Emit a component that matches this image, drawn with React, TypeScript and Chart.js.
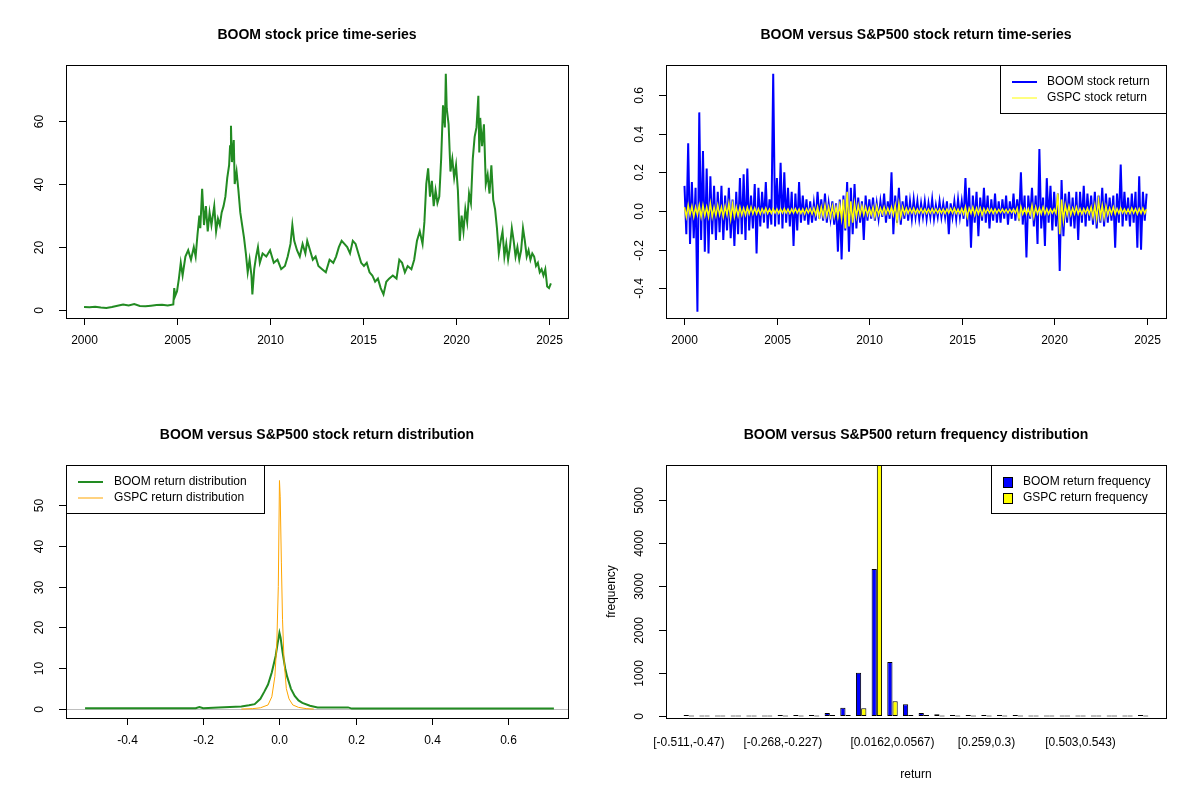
import React, { useEffect, useRef } from "react";
import { Chart, registerables } from "chart.js";

Chart.register(...registerables);

const FONT = "'Liberation Sans', Arial, sans-serif";

// ---- top-left: price series (year, price)
const priceYears = [
  2000.0, 2000.3, 2000.6, 2000.9, 2001.2, 2001.5, 2001.8, 2002.1, 2002.4, 2002.7, 2003.0, 2003.3, 2003.6, 2003.9,
  2004.2, 2004.5, 2004.8, 2004.85, 2004.9, 2005.0, 2005.1, 2005.2, 2005.3, 2005.45, 2005.6, 2005.75, 2005.9, 2006.0,
  2006.1, 2006.2, 2006.25, 2006.35, 2006.45, 2006.55, 2006.65, 2006.75, 2006.85, 2007.0, 2007.1, 2007.2, 2007.3,
  2007.4, 2007.5, 2007.6, 2007.7, 2007.8, 2007.85, 2007.9, 2007.95, 2008.05, 2008.1, 2008.2, 2008.3, 2008.4, 2008.5,
  2008.6, 2008.7, 2008.8, 2008.9, 2009.0, 2009.05, 2009.15, 2009.25, 2009.35, 2009.45, 2009.6, 2009.8, 2010.0, 2010.2,
  2010.4, 2010.6, 2010.8, 2010.95, 2011.1, 2011.2, 2011.3, 2011.45, 2011.6, 2011.75, 2011.9, 2012.0, 2012.15, 2012.3,
  2012.45, 2012.6, 2012.8, 2013.0, 2013.2, 2013.4, 2013.55, 2013.7, 2013.85, 2014.0, 2014.15, 2014.3, 2014.45, 2014.6,
  2014.75, 2014.9, 2015.05, 2015.2, 2015.35, 2015.5, 2015.65, 2015.8, 2015.95, 2016.1, 2016.25, 2016.4, 2016.6,
  2016.8, 2016.95, 2017.1, 2017.25, 2017.4, 2017.6, 2017.75, 2017.9, 2018.05, 2018.2, 2018.3, 2018.4, 2018.5,
  2018.6, 2018.7, 2018.8, 2018.9, 2019.0, 2019.1, 2019.2, 2019.3, 2019.4, 2019.45, 2019.5, 2019.6, 2019.7, 2019.8,
  2019.9, 2020.0, 2020.1, 2020.2, 2020.3, 2020.4, 2020.5, 2020.6, 2020.7, 2020.8, 2020.9, 2021.0, 2021.1, 2021.2,
  2021.25, 2021.3, 2021.4, 2021.5, 2021.6, 2021.7, 2021.8, 2021.9, 2022.0, 2022.1, 2022.2, 2022.3, 2022.4, 2022.5,
  2022.6, 2022.7, 2022.8, 2022.9, 2023.0, 2023.1, 2023.2, 2023.3, 2023.4, 2023.5, 2023.6, 2023.7, 2023.8, 2023.9,
  2024.0, 2024.1, 2024.2, 2024.3, 2024.4, 2024.5, 2024.6, 2024.7, 2024.8, 2024.9, 2025.0, 2025.1,
];
const priceValues = [
  1.0, 0.9, 1.1, 0.8, 0.7, 1.0, 1.4, 1.8, 1.5, 1.9, 1.3, 1.2, 1.4, 1.6,
  1.7, 1.5, 1.8, 7.0, 4.5, 6.0, 10.0, 15.0, 11.0, 17.0, 19.0, 16.0, 20.0, 17.0,
  24.0, 30.0, 26.0, 38.5, 27.0, 33.0, 25.0, 31.0, 27.0, 33.0, 25.0, 29.0, 27.0,
  31.0, 33.0, 36.0, 42.0, 46.0, 52.0, 58.5, 47.0, 54.0, 40.0, 44.0, 38.0, 31.0, 27.0,
  23.0, 18.0, 12.0, 16.0, 11.0, 5.0, 13.0, 17.0, 20.0, 15.0, 18.0, 17.0, 19.0, 15.0,
  16.0, 13.0, 14.0, 17.0, 21.0, 27.0, 22.0, 19.0, 17.0, 21.0, 18.0, 22.0, 19.0, 16.0,
  17.0, 14.0, 13.0, 12.0, 16.0, 15.0, 17.0, 20.0, 22.0, 21.0, 20.0, 18.0, 22.0, 21.0,
  18.0, 15.0, 14.0, 15.0, 12.0, 11.0, 9.0, 10.0, 7.0, 5.0, 9.0, 10.0, 11.0,
  10.0, 16.0, 15.0, 12.0, 14.0, 13.0, 16.0, 22.0, 25.0, 21.0, 28.0, 40.0, 45.0,
  36.0, 41.0, 33.0, 38.0, 34.0, 36.0, 48.0, 65.0, 58.0, 75.0, 64.0, 59.0, 44.0, 48.0,
  42.0, 46.0, 38.0, 22.0, 30.0, 25.0, 32.0, 28.0, 37.0, 34.0, 48.0, 55.0, 58.0, 68.0,
  50.0, 61.0, 52.0, 59.0, 40.0, 43.0, 37.0, 46.0, 35.0, 32.0, 26.0, 18.0, 22.0, 25.0,
  17.0, 21.0, 16.0, 20.0, 26.0, 22.0, 17.0, 20.0, 16.0, 19.0, 26.0, 22.0, 17.0, 19.0,
  16.0, 18.0, 17.0, 14.0, 15.0, 12.0, 13.0, 11.0, 13.0, 7.5, 7.0, 8.5,
];

// ---- top-right: returns, 10 observations per year from 2000
const boomReturn = [
  0.13, -0.12, 0.35, -0.17, 0.15, -0.14, 0.12, -0.52, 0.51, -0.15,
  0.31, -0.21, 0.22, -0.22, 0.18, -0.12, 0.13, -0.15, 0.1, -0.11,
  0.13, -0.15, 0.08, -0.1, 0.12, -0.14, 0.06, -0.18, 0.1, -0.12,
  0.17, -0.12, 0.19, -0.15, 0.22, -0.1, 0.08, -0.09, 0.14, -0.22,
  0.12, -0.08, 0.1, -0.06, 0.15, -0.09, 0.06, -0.07, 0.71, -0.08,
  0.17, -0.07, 0.25, -0.09, 0.2, -0.06, 0.12, -0.08, 0.1, -0.18,
  0.09, -0.1, 0.15, -0.06, 0.08, -0.05, 0.06, -0.07, 0.05, -0.06,
  0.04, -0.05, 0.1, -0.04, 0.06, -0.05, 0.09, -0.06, 0.04, -0.04,
  0.05, -0.07, 0.04, -0.21, 0.06, -0.25, 0.08, -0.1, 0.15, -0.21,
  0.12, -0.12, 0.14, -0.09, 0.07, -0.06, 0.05, -0.15, 0.08, -0.05,
  0.06, -0.04, 0.07, -0.05, 0.04, -0.04, 0.05, -0.03, 0.09, -0.06,
  0.05, -0.04, 0.2, -0.12, 0.08, -0.06, 0.12, -0.07, 0.05, -0.04,
  0.08, -0.05, 0.05, -0.04, 0.06, -0.03, 0.05, -0.04, 0.04, -0.03,
  0.05, -0.04, 0.04, -0.03, 0.06, -0.04, 0.03, -0.03, 0.05, -0.03,
  0.04, -0.03, 0.05, -0.12, 0.04, -0.03, 0.05, -0.04, 0.06, -0.03,
  0.05, -0.04, 0.17, -0.08, 0.12, -0.19, 0.08, -0.06, 0.1, -0.13,
  0.07, -0.05, 0.12, -0.06, 0.08, -0.09, 0.06, -0.05, 0.09, -0.06,
  0.05, -0.06, 0.06, -0.04, 0.08, -0.07, 0.05, -0.04, 0.09, -0.05,
  0.06, -0.05, 0.2, -0.07, 0.08, -0.24, 0.08, -0.04, 0.12, -0.08,
  0.08, -0.17, 0.32, -0.09, 0.07, -0.18, 0.17, -0.06, 0.13, -0.1,
  0.1, -0.08, 0.09, -0.31, 0.16, -0.13, 0.09, -0.06, 0.1, -0.08,
  0.07, -0.09, 0.1, -0.15, 0.1, -0.06, 0.13, -0.08, 0.09, -0.05,
  0.08, -0.07, 0.1, -0.09, 0.08, -0.06, 0.12, -0.08, 0.09, -0.06,
  0.07, -0.05, 0.08, -0.19, 0.09, -0.06, 0.24, -0.08, 0.1, -0.05,
  0.07, -0.08, 0.09, -0.06, 0.1, -0.19, 0.18, -0.2, 0.1, -0.05,
  0.09,
];
const gspcReturn = [
  0.02, -0.03, 0.03, -0.02, 0.025, -0.03, 0.02, -0.02, 0.03, -0.03,
  0.03, -0.025, 0.02, -0.03, 0.04, -0.03, 0.02, -0.025, 0.03, -0.02,
  0.02, -0.03, 0.025, -0.02, 0.04, -0.04, 0.035, -0.03, 0.02, -0.025,
  0.02, -0.02, 0.015, -0.02, 0.02, -0.015, 0.02, -0.015, 0.015, -0.015,
  0.012, -0.015, 0.012, -0.01, 0.015, -0.012, 0.01, -0.012, 0.012, -0.01,
  0.01, -0.012, 0.01, -0.01, 0.012, -0.01, 0.01, -0.012, 0.01, -0.01,
  0.012, -0.01, 0.01, -0.012, 0.01, -0.015, 0.012, -0.01, 0.012, -0.015,
  0.015, -0.02, 0.02, -0.03, 0.02, -0.025, 0.03, -0.025, 0.02, -0.03,
  0.025, -0.03, 0.02, -0.03, 0.03, -0.04, 0.06, -0.09, 0.1, -0.08,
  0.05, -0.06, 0.04, -0.03, 0.03, -0.02, 0.025, -0.02, 0.02, -0.02,
  0.015, -0.02, 0.02, -0.03, 0.025, -0.02, 0.015, -0.015, 0.02, -0.015,
  0.015, -0.012, 0.02, -0.02, 0.03, -0.05, 0.04, -0.03, 0.02, -0.015,
  0.015, -0.012, 0.012, -0.01, 0.015, -0.012, 0.01, -0.01, 0.012, -0.01,
  0.01, -0.012, 0.01, -0.01, 0.012, -0.01, 0.01, -0.01, 0.01, -0.01,
  0.01, -0.012, 0.01, -0.01, 0.012, -0.01, 0.015, -0.012, 0.01, -0.012,
  0.012, -0.015, 0.02, -0.03, 0.015, -0.012, 0.02, -0.02, 0.015, -0.015,
  0.015, -0.02, 0.012, -0.01, 0.012, -0.01, 0.01, -0.012, 0.01, -0.01,
  0.008, -0.008, 0.01, -0.008, 0.008, -0.01, 0.008, -0.008, 0.01, -0.01,
  0.015, -0.04, 0.02, -0.015, 0.012, -0.015, 0.012, -0.02, 0.03, -0.03,
  0.02, -0.015, 0.015, -0.015, 0.02, -0.015, 0.012, -0.015, 0.01, -0.01,
  0.01, -0.012, 0.09, -0.12, 0.06, -0.05, 0.03, -0.02, 0.025, -0.02,
  0.015, -0.015, 0.02, -0.015, 0.012, -0.015, 0.012, -0.01, 0.015, -0.015,
  0.02, -0.03, 0.03, -0.04, 0.055, -0.03, 0.03, -0.035, 0.025, -0.02,
  0.015, -0.015, 0.02, -0.015, 0.012, -0.012, 0.015, -0.01, 0.01, -0.012,
  0.01, -0.012, 0.015, -0.01, 0.012, -0.015, 0.012, -0.012, 0.015, -0.012,
  0.01,
];

// ---- bottom-left: densities
const boomDensX = [-0.51, -0.22, -0.21, -0.2, -0.16, -0.1, -0.08, -0.065, -0.05, -0.04, -0.03, -0.02, -0.01, -0.005, 0.0, 0.003, 0.008, 0.015, 0.02, 0.03, 0.04, 0.05, 0.06, 0.08, 0.1, 0.18, 0.19, 0.72];
const boomDensY = [0.2, 0.2, 0.5, 0.2, 0.4, 0.6, 0.9, 1.2, 2.5, 4.2, 6.0, 9.0, 13.0, 16.0, 18.7, 17.5, 14.0, 10.0, 8.0, 5.0, 3.2, 2.1, 1.5, 0.8, 0.4, 0.4, 0.1, 0.1];
const gspcDensX = [-0.1, -0.07, -0.05, -0.03, -0.02, -0.012, -0.007, -0.003, 0.0, 0.002, 0.005, 0.008, 0.012, 0.018, 0.025, 0.035, 0.05, 0.07, 0.09];
const gspcDensY = [0.0, 0.1, 0.3, 1.0, 3.0, 8.0, 16.0, 30.0, 56.0, 52.0, 36.0, 22.0, 12.0, 5.0, 2.5, 1.0, 0.4, 0.1, 0.0];

// ---- bottom-right: histogram
const binBreaks = [-0.511, -0.47, -0.43, -0.389, -0.349, -0.308, -0.268, -0.227, -0.187, -0.146, -0.106, -0.0652, -0.0246, 0.0162, 0.0567, 0.0973, 0.138, 0.178, 0.219, 0.259, 0.3, 0.341, 0.381, 0.422, 0.462, 0.503, 0.543, 0.584, 0.624, 0.665, 0.705];
const boomFreq = [1, 0, 0, 0, 0, 0, 2, 15, 20, 70, 190, 1000, 3400, 1250, 270, 70, 40, 20, 15, 3, 2, 1, 0, 0, 0, 0, 0, 0, 0, 1];
const gspcFreq = [0, 0, 0, 0, 0, 0, 0, 0, 0, 3, 25, 180, 5900, 340, 25, 3, 0, 0, 0, 0, 0, 0, 0, 0, 0, 0, 0, 0, 0, 0];
const shownBins = [0, 6, 13, 19, 25];

const yearTicks = [2000, 2005, 2010, 2015, 2020, 2025];
const priceTicks = [0, 20, 40, 60];
const retTicks = [-0.4, -0.2, 0, 0.2, 0.4, 0.6];
const densXTicks = [-0.4, -0.2, 0, 0.2, 0.4, 0.6];
const densYTicks = [0, 10, 20, 30, 40, 50];
const freqTicks = [0, 1000, 2000, 3000, 4000, 5000];

type LegendItem = { label: string; color: string; lw: number; kind: "line" | "box" };
type Frame = {
  title: string;
  yTicks: number[];
  yDec: number;
  xTicks?: number[];
  xDec?: number;
  xCats?: number[];
  padX?: number;
  hline?: boolean;
  legend: { x0: number; x1: number; s0: number; s1: number; tx: number; items: LegendItem[] };
  xTitle?: string;
  yTitle?: string;
};

function framePlugin(f: Frame) {
  return {
    id: "frame",
    beforeDatasetsDraw(chart: any) {
      if (!f.hline) return;
      const { ctx, chartArea } = chart;
      const y = Math.round(chart.scales.y.getPixelForValue(0)) + 0.5;
      ctx.save();
      ctx.strokeStyle = "#BEBEBE";
      ctx.lineWidth = 1;
      ctx.beginPath();
      ctx.moveTo(chartArea.left, y);
      ctx.lineTo(chartArea.right, y);
      ctx.stroke();
      ctx.restore();
    },
    afterDraw(chart: any) {
      const { ctx, chartArea } = chart;
      const px = f.padX || 0;
      const bl = chartArea.left - px;
      const br = chartArea.right + px;
      const top = chartArea.top;
      const bot = chartArea.bottom;
      ctx.save();
      ctx.strokeStyle = "#000";
      ctx.fillStyle = "#000";
      ctx.lineWidth = 1;
      ctx.strokeRect(Math.round(bl) + 0.5, Math.round(top) + 0.5, Math.round(br - bl), Math.round(bot - top));
      ctx.font = `12px ${FONT}`;
      // y axis
      const ys = chart.scales.y;
      for (const v of f.yTicks) {
        const py = Math.round(ys.getPixelForValue(v)) + 0.5;
        ctx.beginPath();
        ctx.moveTo(bl, py);
        ctx.lineTo(bl - 7, py);
        ctx.stroke();
        ctx.save();
        ctx.translate(bl - 26, py);
        ctx.rotate(-Math.PI / 2);
        ctx.textAlign = "center";
        ctx.textBaseline = "middle";
        ctx.fillText(v.toFixed(f.yDec), 0, 0);
        ctx.restore();
      }
      // x axis
      const xs = chart.scales.x;
      ctx.textAlign = "center";
      ctx.textBaseline = "middle";
      if (f.xTicks) {
        for (const v of f.xTicks) {
          const p = Math.round(xs.getPixelForValue(v)) + 0.5;
          ctx.beginPath();
          ctx.moveTo(p, bot);
          ctx.lineTo(p, bot + 7);
          ctx.stroke();
          ctx.fillText(v.toFixed(f.xDec || 0), p, bot + 23);
        }
      }
      if (f.xCats) {
        const labels = chart.data.labels;
        for (const i of f.xCats) {
          ctx.fillText(labels[i], xs.getPixelForValue(i), bot + 25);
        }
      }
      if (f.xTitle) ctx.fillText(f.xTitle, (bl + br) / 2, 375);
      if (f.yTitle) {
        ctx.save();
        ctx.translate(12, (top + bot) / 2);
        ctx.rotate(-Math.PI / 2);
        ctx.fillText(f.yTitle, 0, 0);
        ctx.restore();
      }
      // title
      ctx.font = `bold 14px ${FONT}`;
      ctx.fillText(f.title, (bl + br) / 2, 35);
      // legend
      const L = f.legend;
      if (L.items.length) {
        ctx.fillStyle = "#fff";
        ctx.fillRect(L.x0, top, L.x1 - L.x0, 48);
        ctx.strokeStyle = "#000";
        ctx.lineWidth = 1;
        ctx.strokeRect(L.x0 + 0.5, top + 0.5, L.x1 - L.x0, 48);
      }
      ctx.font = `12px ${FONT}`;
      ctx.textAlign = "left";
      L.items.forEach((it, i) => {
        const y = top + 17 + i * 16;
        if (it.kind === "line") {
          ctx.strokeStyle = it.color;
          ctx.lineWidth = it.lw;
          ctx.beginPath();
          ctx.moveTo(L.s0, y);
          ctx.lineTo(L.s1, y);
          ctx.stroke();
        } else {
          ctx.fillStyle = it.color;
          ctx.fillRect(L.s0, y - 5, 9, 10);
          ctx.strokeStyle = "#000";
          ctx.lineWidth = 1;
          ctx.strokeRect(L.s0 + 0.5, y - 4.5, 9, 10);
        }
        ctx.fillStyle = "#000";
        ctx.fillText(it.label, L.tx, y);
      });
      ctx.restore();
    },
  };
}

function Panel({ config, left, top }: { config: any; left: number; top: number }) {
  const ref = useRef<HTMLCanvasElement>(null);
  useEffect(() => {
    if (!ref.current) return;
    const chart = new Chart(ref.current, config);
    return () => chart.destroy();
  }, [config]);
  return (
    <canvas
      ref={ref}
      width={600}
      height={400}
      style={{ position: "absolute", left, top, width: 600, height: 400 }}
    />
  );
}

const hidden = { display: false };
const baseOpts = (pad: any, x: any, y: any) => ({
  responsive: false,
  animation: false,
  devicePixelRatio: 1,
  layout: { padding: pad },
  plugins: { legend: hidden, tooltip: { enabled: false }, title: hidden },
  scales: { x: { ...x, display: false }, y: { ...y, display: false } },
});

const pts = (xs: number[], ys: number[]) => xs.map((x, i) => ({ x, y: ys[i] }));
const retPts = (vals: number[]) => vals.map((v, i) => ({ x: 2000 + i / 10, y: v }));

const cfgPrice = {
  type: "line",
  data: {
    datasets: [
      { data: pts(priceYears, priceValues), borderColor: "#228B22", borderWidth: 2, pointRadius: 0, tension: 0 },
    ],
  },
  options: baseOpts(
    { left: 66, right: 32, top: 65, bottom: 82 },
    { type: "linear", min: 1999.03, max: 2026.02 },
    { type: "linear", min: -2.5, max: 77.8 }
  ),
  plugins: [
    framePlugin({
      title: "BOOM stock price time-series",
      yTicks: priceTicks,
      yDec: 0,
      xTicks: yearTicks,
      legend: { x0: 0, x1: 0, s0: 0, s1: 0, tx: 0, items: [] },
    }),
  ],
};

// lower `order` is drawn on top
const cfgReturn = {
  type: "line",
  data: {
    datasets: [
      { data: retPts(boomReturn), borderColor: "#0000FF", borderWidth: 2, pointRadius: 0, tension: 0, order: 2 },
      { data: retPts(gspcReturn), borderColor: "#FFFF00", borderWidth: 1.5, pointRadius: 0, tension: 0, order: 1 },
    ],
  },
  options: baseOpts(
    { left: 66, right: 34, top: 65, bottom: 82 },
    { type: "linear", min: 1999.0, max: 2026.05 },
    { type: "linear", min: -0.553, max: 0.755 }
  ),
  plugins: [
    framePlugin({
      title: "BOOM versus S&P500 stock return time-series",
      yTicks: retTicks,
      yDec: 1,
      xTicks: yearTicks,
      legend: {
        x0: 400, x1: 566, s0: 412, s1: 437, tx: 447,
        items: [
          { label: "BOOM stock return", color: "#0000FF", lw: 2, kind: "line" },
          { label: "GSPC stock return", color: "#FFFF00", lw: 1, kind: "line" },
        ],
      },
    }),
  ],
};

const cfgDensity = {
  type: "line",
  data: {
    datasets: [
      { data: pts(boomDensX, boomDensY), borderColor: "#228B22", borderWidth: 2, pointRadius: 0, tension: 0, order: 2 },
      { data: pts(gspcDensX, gspcDensY), borderColor: "#FFA500", borderWidth: 1, pointRadius: 0, tension: 0, order: 1 },
    ],
  },
  options: baseOpts(
    { left: 66, right: 32, top: 65, bottom: 82 },
    { type: "linear", min: -0.56, max: 0.757 },
    { type: "linear", min: -2.2, max: 59.8 }
  ),
  plugins: [
    framePlugin({
      title: "BOOM versus S&P500 stock return distribution",
      yTicks: densYTicks,
      yDec: 0,
      xTicks: densXTicks,
      xDec: 1,
      hline: true,
      legend: {
        x0: 66, x1: 264, s0: 78, s1: 103, tx: 114,
        items: [
          { label: "BOOM return distribution", color: "#228B22", lw: 2, kind: "line" },
          { label: "GSPC return distribution", color: "#FFA500", lw: 1, kind: "line" },
        ],
      },
    }),
  ],
};

const binLabels = boomFreq.map((_, i) => `[${binBreaks[i]},${binBreaks[i + 1]})`);

const cfgHist = {
  type: "bar",
  data: {
    labels: binLabels,
    datasets: [
      { data: boomFreq, backgroundColor: "#0000FF", borderColor: "#000", borderWidth: 1, minBarLength: 1, categoryPercentage: 2 / 3, barPercentage: 1, borderSkipped: false },
      { data: gspcFreq, backgroundColor: "#FFFF00", borderColor: "#000", borderWidth: 1, minBarLength: 1, categoryPercentage: 2 / 3, barPercentage: 1, borderSkipped: false },
    ],
  },
  options: baseOpts(
    { left: 81, right: 49, top: 65, bottom: 82 },
    { type: "category" },
    { type: "linear", min: -46, max: 5810 }
  ),
  plugins: [
    framePlugin({
      title: "BOOM versus S&P500 return frequency distribution",
      yTicks: freqTicks,
      yDec: 0,
      xCats: shownBins,
      padX: 15,
      xTitle: "return",
      yTitle: "frequency",
      legend: {
        x0: 391, x1: 566, s0: 403, s1: 0, tx: 423,
        items: [
          { label: "BOOM return frequency", color: "#0000FF", lw: 1, kind: "box" },
          { label: "GSPC return frequency", color: "#FFFF00", lw: 1, kind: "box" },
        ],
      },
    }),
  ],
};

export default function App() {
  return (
    <div style={{ position: "absolute", left: 0, top: 0, width: 1200, height: 800, background: "#fff" }}>
      <Panel config={cfgPrice} left={0} top={0} />
      <Panel config={cfgReturn} left={600} top={0} />
      <Panel config={cfgDensity} left={0} top={400} />
      <Panel config={cfgHist} left={600} top={400} />
    </div>
  );
}
